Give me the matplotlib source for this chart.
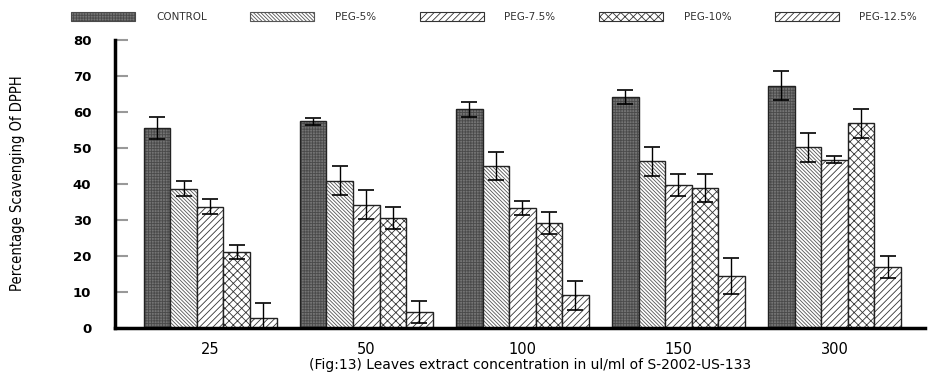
import numpy as np
import matplotlib
matplotlib.use('Agg')
import matplotlib.pyplot as plt
from matplotlib.patches import Patch

# Data
concentrations = ['25', '50', '100', '150', '300']
series_names = ['CONTROL', 'PEG-5%', 'PEG-7.5%', 'PEG-10%', 'PEG-12.5%']

control = [55.5, 57.4, 60.7, 64.1, 67.3]
peg_5 = [38.7, 40.9, 45.0, 46.3, 50.2]
peg_7_5 = [33.7, 34.2, 33.3, 39.8, 46.7]
peg_10 = [21.1, 30.5, 29.1, 38.9, 56.9]
peg_12_5 = [2.9, 4.4, 9.1, 14.4, 16.9]

control_err = [3.0, 1.0, 2.0, 2.0, 4.0]
peg_5_err = [2.0, 4.0, 4.0, 4.0, 4.0]
peg_7_5_err = [2.0, 4.0, 2.0, 3.0, 1.0]
peg_10_err = [2.0, 3.0, 3.0, 4.0, 4.0]
peg_12_5_err = [4.0, 3.0, 4.0, 5.0, 3.0]

values = [control, peg_5, peg_7_5, peg_10, peg_12_5]
errs = [control_err, peg_5_err, peg_7_5_err, peg_10_err, peg_12_5_err]

# styles: (face colour, hatch colour, hatch)
styles = [
    ('#747474', '#4a4a4a', '++++++'),
    ('#ffffff', '#555555', '\\\\\\\\\\\\\\\\\\'),
    ('#ffffff', '#333333', '/////'),
    ('#ffffff', '#333333', 'xxxx'),
    ('#ffffff', '#333333', '/////'),
]

plt.rcParams['hatch.linewidth'] = 0.6

fig = plt.figure(figsize=(9.31, 3.73), dpi=100)
ax = fig.add_axes([115 / 931, 45 / 373, 810 / 931, 288 / 373])

x = np.arange(len(concentrations))
w = 0.17

for i, (vals, err) in enumerate(zip(values, errs)):
    fc, hc, hatch = styles[i]
    pos = x + (i - 2) * w
    ax.bar(pos, vals, w, color=fc, edgecolor=hc, hatch=hatch, linewidth=0)
    ax.bar(pos, vals, w, fill=False, edgecolor='#222222', linewidth=1.0)
    _, caps, _ = ax.errorbar(pos, vals, yerr=err, fmt='none', ecolor='black',
                             elinewidth=1, capsize=6, capthick=1.2)
    for c in caps:
        c.set_color('#555555')

ax.set_xlim(-0.61, 4.58)
ax.set_ylim(0, 80)

for s in ['top', 'right']:
    ax.spines[s].set_visible(False)
ax.spines['left'].set_linewidth(2.5)
ax.spines['bottom'].set_linewidth(2.5)

ax.set_yticks(range(0, 81, 10))
ax.tick_params(axis='y', direction='in', length=9, width=1.5, color='#999999',
               pad=17, labelsize=9.5)
for lab in ax.get_yticklabels():
    lab.set_fontweight('bold')
    lab.set_family('DejaVu Sans')
ax.set_xticks(x)
ax.set_xticklabels(concentrations, family='DejaVu Sans', fontsize=10.5)
ax.tick_params(axis='x', length=0, pad=10)

fig.text(18 / 931, 1 - 183 / 373, 'Percentage Scavenging Of DPPH', rotation=90,
         ha='center', va='center', fontsize=10.5, fontstretch='condensed',
         family=['Liberation Sans Narrow', 'DejaVu Sans'])
fig.text(530 / 931, 1 - 365 / 373,
         '(Fig:13) Leaves extract concentration in ul/ml of S-2002-US-133',
         ha='center', va='center', fontsize=10, family='DejaVu Sans')

handles = []
for fc, hc, hatch in styles:
    handles.append(Patch(facecolor=fc, edgecolor=hc, hatch=hatch, linewidth=0.8))
fig.legend(handles, series_names, loc='center left',
           bbox_to_anchor=(62 / 931, 1 - 17 / 373), ncol=5, frameon=False,
           prop={'family': 'DejaVu Sans', 'size': 7.5},
           handlelength=6.15, handleheight=0.95, handletextpad=2.0,
           columnspacing=4.15, labelcolor='#333333')

fig.savefig('out.png', dpi=100)
